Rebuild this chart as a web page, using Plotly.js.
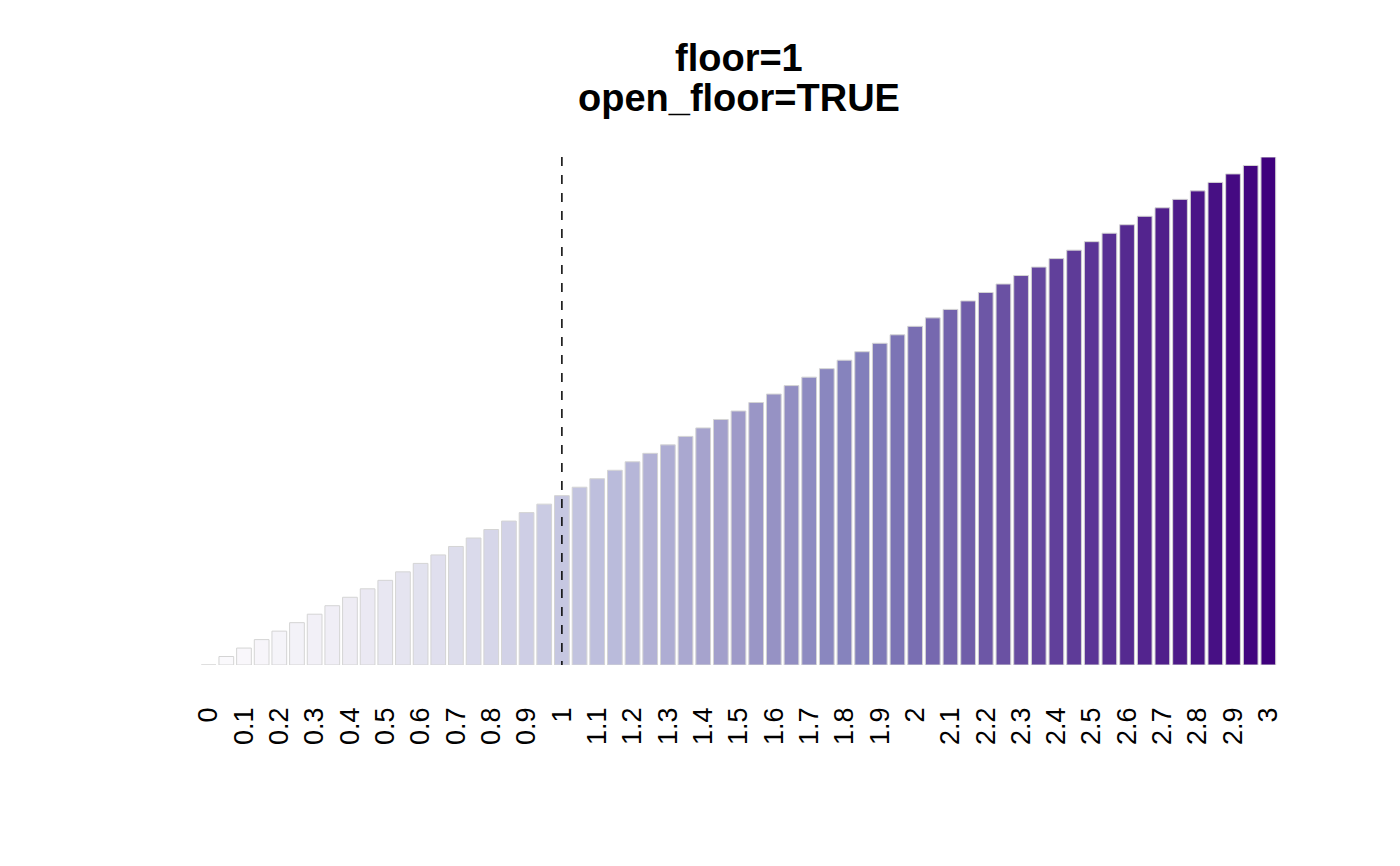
<!DOCTYPE html>
<html>
<head>
<meta charset="utf-8">
<script src="https://cdn.plot.ly/plotly-3.0.1.min.js"></script>
<style>
  html, body { margin: 0; padding: 0; background: #fff; }
  #chart { width: 1400px; height: 866px; }
</style>
</head>
<body>
<div id="chart"></div>
<script>
// bar positions (0 to 3 in steps of 0.05) and their heights
var positions = [0, 0.05, 0.1, 0.15, 0.2, 0.25, 0.3, 0.35, 0.4, 0.45,
  0.5, 0.55, 0.6, 0.65, 0.7, 0.75, 0.8, 0.85, 0.9, 0.95,
  1, 1.05, 1.1, 1.15, 1.2, 1.25, 1.3, 1.35, 1.4, 1.45,
  1.5, 1.55, 1.6, 1.65, 1.7, 1.75, 1.8, 1.85, 1.9, 1.95,
  2, 2.05, 2.1, 2.15, 2.2, 2.25, 2.3, 2.35, 2.4, 2.45,
  2.5, 2.55, 2.6, 2.65, 2.7, 2.75, 2.8, 2.85, 2.9, 2.95, 3];
var heights = [0, 0.05, 0.1, 0.15, 0.2, 0.25, 0.3, 0.35, 0.4, 0.45,
  0.5, 0.55, 0.6, 0.65, 0.7, 0.75, 0.8, 0.85, 0.9, 0.95,
  1, 1.05, 1.1, 1.15, 1.2, 1.25, 1.3, 1.35, 1.4, 1.45,
  1.5, 1.55, 1.6, 1.65, 1.7, 1.75, 1.8, 1.85, 1.9, 1.95,
  2, 2.05, 2.1, 2.15, 2.2, 2.25, 2.3, 2.35, 2.4, 2.45,
  2.5, 2.55, 2.6, 2.65, 2.7, 2.75, 2.8, 2.85, 2.9, 2.95, 3];
var tickVals = [0, 0.1, 0.2, 0.3, 0.4, 0.5, 0.6, 0.7, 0.8, 0.9, 1,
  1.1, 1.2, 1.3, 1.4, 1.5, 1.6, 1.7, 1.8, 1.9, 2,
  2.1, 2.2, 2.3, 2.4, 2.5, 2.6, 2.7, 2.8, 2.9, 3];
var tickLabels = ['0', '0.1', '0.2', '0.3', '0.4', '0.5', '0.6', '0.7', '0.8', '0.9', '1',
  '1.1', '1.2', '1.3', '1.4', '1.5', '1.6', '1.7', '1.8', '1.9', '2',
  '2.1', '2.2', '2.3', '2.4', '2.5', '2.6', '2.7', '2.8', '2.9', '3'];
var titleLines = ['floor=1', 'open_floor=TRUE'];
var floorValue = 1;

// Purples palette, stretched across the bars
var purples = ['#fcfbfd', '#efedf5', '#dadaeb', '#bcbddc', '#9e9ac8',
  '#807dba', '#6a51a3', '#54278f', '#3f007d'];

function hexToRgb(h) {
  return [parseInt(h.slice(1, 3), 16), parseInt(h.slice(3, 5), 16), parseInt(h.slice(5, 7), 16)];
}
function rampColor(t) {
  var p = t * (purples.length - 1);
  var i = Math.min(Math.floor(p), purples.length - 2);
  var f = p - i;
  var a = hexToRgb(purples[i]), b = hexToRgb(purples[i + 1]);
  var c = a.map(function (v, k) { return Math.round(v + (b[k] - v) * f); });
  return 'rgb(' + c.join(',') + ')';
}
var barColors = positions.map(function (_, i) { return rampColor(i / (positions.length - 1)); });

var trace = {
  type: 'bar',
  x: positions,
  y: heights,
  width: 0.05 / 1.2,
  marker: { color: barColors, line: { color: '#d4d4d4', width: 1 } },
  hoverinfo: 'x+y'
};

// the two title lines sit as annotations so their spacing can match
var titleFont = { size: 38, color: '#000', family: 'Liberation Sans, Arial, sans-serif' };
var annotations = [
  { text: '<b>' + titleLines[0] + '</b>', xref: 'paper', yref: 'paper', x: 0.5, y: 1.195,
    xanchor: 'center', yanchor: 'middle', showarrow: false, font: titleFont },
  { text: '<b>' + titleLines[1] + '</b>', xref: 'paper', yref: 'paper', x: 0.5, y: 1.116,
    xanchor: 'center', yanchor: 'middle', showarrow: false, font: titleFont }
];

var layout = {
  width: 1400,
  height: 866,
  paper_bgcolor: '#fff',
  plot_bgcolor: '#fff',
  margin: { l: 191, r: 114, t: 157, b: 201 },
  showlegend: false,
  font: { family: 'Liberation Sans, Arial, sans-serif', color: '#000' },
  annotations: annotations,
  xaxis: {
    range: [-0.05, 3.05],
    tickvals: tickVals,
    ticktext: tickLabels,
    tickangle: -90,
    tickfont: { size: 27, color: '#000' },
    ticks: '',
    ticklabelstandoff: 36,
    showgrid: false, zeroline: false, showline: false
  },
  yaxis: {
    range: [0, 3],
    visible: false,
    showgrid: false, zeroline: false
  },
  shapes: [{
    type: 'line',
    xref: 'x', yref: 'y',
    x0: floorValue, x1: floorValue,
    y0: -0.03, y1: 3,
    line: { color: '#000', width: 1.5, dash: 'dash' }
  }]
};

Plotly.newPlot('chart', [trace], layout, { displayModeBar: false });
</script>
</body>
</html>
